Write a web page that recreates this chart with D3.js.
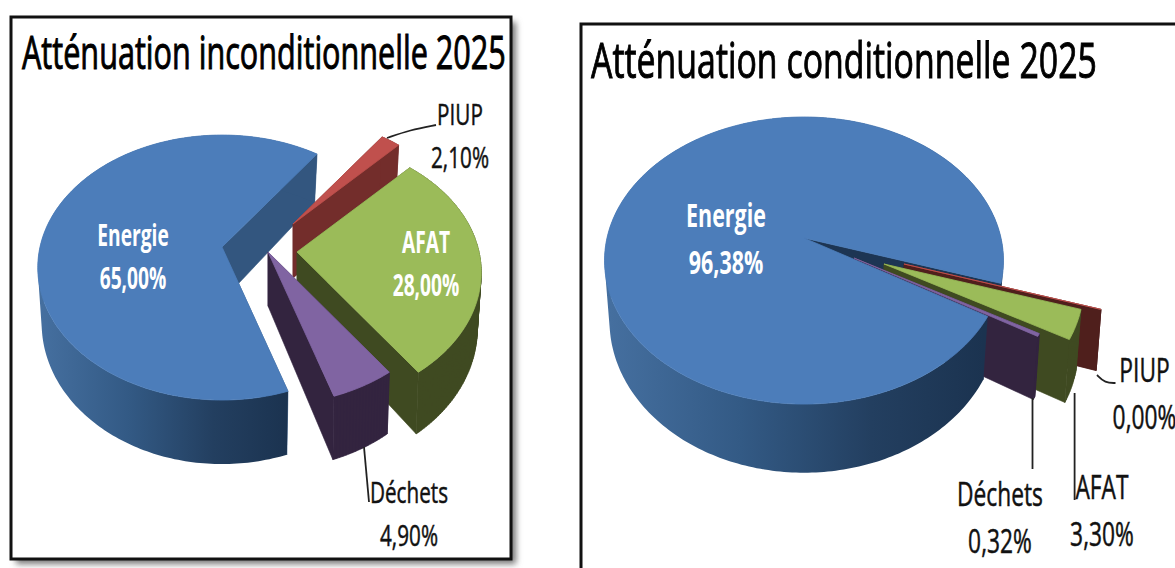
<!DOCTYPE html>
<html><head><meta charset="utf-8">
<script src="https://cdnjs.cloudflare.com/ajax/libs/d3/7.8.5/d3.min.js"></script>
<style>html,body{margin:0;background:#fff;overflow:hidden}svg{display:block;filter:blur(.55px)}</style>
</head><body><svg id="c" width="1175" height="568"></svg>
<script>
// ---- data ----
const categories = ["Energie","PIUP","AFAT","Déchets"];
const valuesInconditionnelle = [65.00, 2.10, 28.00, 4.90];
const valuesConditionnelle = [96.38, 0.00, 3.30, 0.32];
const titles = ["Atténuation inconditionnelle 2025","Atténuation conditionnelle 2025"];

// ---- styling ----
const topColor = d3.scaleOrdinal(categories, ["#4c7dba","#c0504d","#9bbb59","#8064a2"]);
const font = '"Open Sans",sans-serif';
const layouts = [{
  values: valuesInconditionnelle, title: titles[0], id:"a",
  frame:{x:11,y:17,w:500,h:542,shadow:true},
  titleBox:{x:22,w:484,y:69,size:46},
  cx:222, cy:247, rx:182, ry:129.3, k:.155, start:162,
  depth:54, rxB:178, ryB:137, kB:.16,
  explode:{Energie:[0,0],PIUP:[71,-23],AFAT:[75,5],"Déchets":[46,5]},
  rScale:{Energie:1,PIUP:.93,AFAT:1,"Déchets":1},
  wall:{Energie:"#33567f",PIUP:"#732d2b",AFAT:"#3f4a21","Déchets":"#33243f"},
  labels:{Energie:[133,236,"#fff"],PIUP:[460,115,"#111"],AFAT:[426,243,"#fff"],"Déchets":[409,493,"#111"]},
  gap:43, fontSize:30, squeezeBold:.64, squeeze:.69,
  leaders:[[[387,138],[410,130],[436,125]],[[364,447],[369,502]]]
},{
  values: valuesConditionnelle, title: titles[1], id:"b",
  frame:{x:581,y:24,w:640,h:600,shadow:false},
  titleBox:{x:591,w:506,y:78,size:50},
  cx:804, cy:238, rx:197, ry:140, k:.157, start:121,
  depth:58.5, rxB:192, ryB:148, kB:.16,
  explode:{Energie:[0,0],PIUP:[100,26],AFAT:[80,26],"Déchets":[50,20]},
  rScale:{Energie:1,PIUP:1,AFAT:1,"Déchets":1},
  wall:{Energie:"#1d3553",PIUP:"#4f1f1c",AFAT:"#3f4a21","Déchets":"#33243f"},
  labels:{Energie:[726,216,"#fff"],PIUP:[1144.5,371,"#111"],AFAT:[1102,488,"#111"],"Déchets":[1000,495,"#111"]},
  gap:47, fontSize:33, squeezeBold:.65, squeeze:.69,
  leaders:[[[1097,375],[1105,383],[1115.5,383]],[[1032.5,398],[1032.5,469]],[[1074.6,393],[1074.6,500]]]
}];

const svg = d3.select("#c");
const defs = svg.append("defs");
const sh = defs.append("filter").attr("id","sh").attr("x","-5%").attr("y","-5%").attr("width","112%").attr("height","112%");
sh.append("feGaussianBlur").attr("stdDeviation",3);
const line = d3.line();
const fmt = v => d3.format(".2f")(v).replace(".",",")+"%";
const oriented = q => d3.polygonArea(q)<0 ? q.slice().reverse() : q;

layouts.forEach(L=>{
  // frame
  const F=L.frame;
  if(F.shadow) svg.append("rect").attr("x",F.x+5).attr("y",F.y+5).attr("width",F.w).attr("height",F.h).attr("fill","#777").attr("filter","url(#sh)");
  svg.append("rect").attr("x",F.x).attr("y",F.y).attr("width",F.w).attr("height",F.h).attr("fill","#fff").attr("stroke","#111").attr("stroke-width",3);
  // title
  const tt=svg.append("text").attr("font-family",font).attr("font-size",L.titleBox.size).attr("fill","#000").attr("stroke","#000").attr("stroke-width",1).text(L.title);
  const natural=tt.node().getComputedTextLength();
  tt.attr("transform",`translate(${L.titleBox.x},${L.titleBox.y}) scale(${L.titleBox.w/natural},1)`);

  // pie layout
  const s=L.start*Math.PI/180;
  const arcs=d3.pie().sort(null).startAngle(s).endAngle(s+2*Math.PI)(L.values);
  const project=(a,bottom,name)=>{
    const [ox,oy]=L.explode[name], r=L.rScale[name];
    const u=Math.sin(a)*r, w=Math.cos(a)*r;
    if(bottom){ const p=1+L.kB*w; return [L.cx+ox+L.rxB*u/p, L.cy+oy+L.depth-L.ryB*w/p]; }
    const p=1+L.k*w; return [L.cx+ox+L.rx*u/p, L.cy+oy-L.ry*w/p];
  };
  const apex=(bottom,name)=>{const [ox,oy]=L.explode[name];return [L.cx+ox,L.cy+oy+(bottom?L.depth:0)];};
  const slices=arcs.map((d,i)=>{
    const name=categories[i];
    const n=Math.max(1,Math.ceil((d.endAngle-d.startAngle)/(Math.PI/180)));
    const angles=d3.range(n+1).map(j=>d.startAngle+(d.endAngle-d.startAngle)*j/n);
    return {name,d,angles,top:angles.map(a=>project(a,false,name)),bot:angles.map(a=>project(a,true,name))};
  });
  const byName=Object.fromEntries(slices.map(x=>[x.name,x]));

  // gradient for the curved wall of the big slice
  const E=byName.Energie;
  const frontPts=E.bot.filter((p,j)=>E.angles[j]<2*Math.PI);
  const grad=defs.append("linearGradient").attr("id","g"+L.id).attr("gradientUnits","userSpaceOnUse")
    .attr("x1",d3.min(frontPts,p=>p[0])).attr("x2",d3.max(frontPts,p=>p[0])).attr("y1",0).attr("y2",0);
  [[0,"#456f9f"],[.35,"#335a85"],[.7,"#233f60"],[1,"#1b3350"]].forEach(([o,c])=>grad.append("stop").attr("offset",o).attr("stop-color",c));

  const drawCuts=(S,g)=>{
    const n=S.top.length-1;
    [0,n].forEach(j=>g.append("path").attr("d",line([apex(false,S.name),S.top[j],S.bot[j],apex(true,S.name)])+"Z").attr("fill",L.wall[S.name]).attr("stroke",L.wall[S.name]).attr("stroke-width",.6));
  };
  const drawOuter=(S,g,fill,test)=>{
    let d="";
    for(let j=0;j<S.top.length-1;j++){
      if(test&&!test(S.angles[j])) continue;
      d+=line(oriented([S.top[j],S.top[j+1],S.bot[j+1],S.bot[j]]))+"Z";
    }
    if(!d) return;
    const p=g.append("path").attr("d",d).attr("fill",fill||L.wall[S.name]);
    if(!fill) p.attr("stroke",L.wall[S.name]).attr("stroke-width",.6);
  };
  const g=svg.append("g");
  // back part of the big slice
  drawCuts(E,g);
  drawOuter(E,g,L.wall.Energie,a=>a>=2*Math.PI);
  // walls of detached slices
  ["PIUP","AFAT","Déchets"].forEach(n=>{drawCuts(byName[n],g);drawOuter(byName[n],g);});
  // front of the big slice
  drawOuter(E,g,`url(#g${L.id})`,a=>a<2*Math.PI);
  // top faces
  ["Energie","PIUP","AFAT","Déchets"].forEach(n=>{
    const S=byName[n];
    g.append("path").attr("d",line([apex(false,n),...S.top])+"Z").attr("fill",topColor(n)).attr("stroke",topColor(n)).attr("stroke-width",.8).attr("stroke-linejoin","round");
  });
  // leaders
  L.leaders.forEach(pts=>g.append("path").attr("d",d3.line().curve(d3.curveBasis)(pts)).attr("fill","none").attr("stroke","#222").attr("stroke-width",1.8));
  // labels
  categories.forEach((c,i)=>{
    const [x,y,col]=L.labels[c];
    const bold=col==="#fff", sq=bold?L.squeezeBold:L.squeeze;
    [[c,y],[fmt(L.values[i]),y+L.gap]].forEach(([txt,yy])=>{
      g.append("text").attr("transform",`translate(${x},${yy+L.fontSize/3}) scale(${sq},1)`)
        .attr("font-family",font).attr("font-size",L.fontSize).attr("fill",col).attr("text-anchor","middle")
        .attr("font-weight",bold?"700":"400").attr("stroke",bold?"none":"#111").attr("stroke-width",bold?0:.5).text(txt);
    });
  });
});
</script></body></html>
